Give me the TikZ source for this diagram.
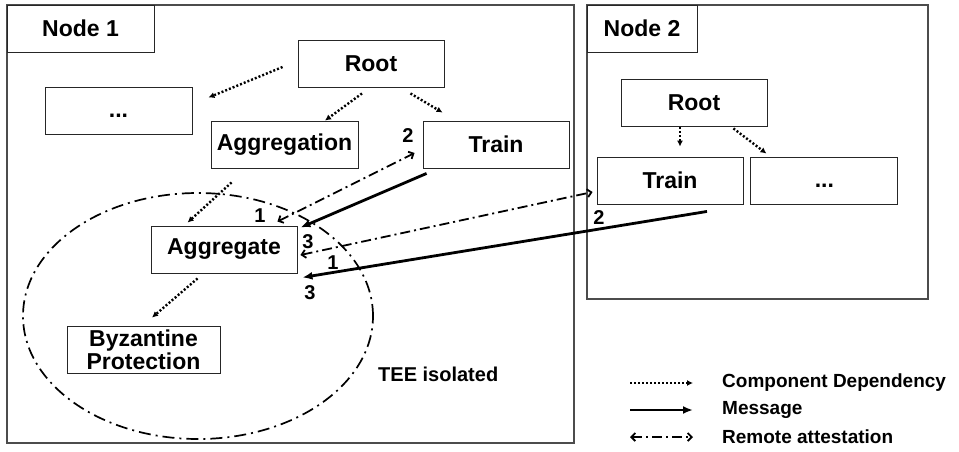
\documentclass[tikz,border=0pt]{standalone}
\usepackage{fontspec}
\setmainfont{Liberation Sans}
\usetikzlibrary{arrows.meta,positioning,calc}

\begin{document}
\begin{tikzpicture}[x=1pt, y=-1pt, font=\bfseries\fontsize{23}{25}\selectfont,
	box/.style={draw=black!85, line width=0.9pt, minimum width=146pt, minimum height=47pt, inner sep=0pt, align=center},
	dotbox/.style={box, minimum width=147pt, text height=17pt, text depth=3pt},
	frame/.style={draw=black!70, line width=1.4pt},
	dep/.style={dash pattern=on 2pt off 2pt, line width=2.4pt, -{Latex[length=6pt,width=6pt]}},
	msg/.style={line width=2.8pt, -{Latex[length=10pt,width=8pt]}},
	att/.style={dash pattern=on 10pt off 4pt on 2pt off 4pt, line width=1.8pt, {Straight Barb[length=4pt,width=8pt]}-{Straight Barb[length=4pt,width=8pt]}},
	tee/.style={dash pattern=on 12pt off 5pt on 2pt off 5pt, line width=1.7pt},
	num/.style={font=\bfseries\fontsize{20}{22}\selectfont, inner sep=0pt},
	legend/.style={font=\bfseries\fontsize{19}{21}\selectfont, anchor=west, inner sep=0pt}]
	\useasboundingbox (0,0) rectangle (959,451);
	
	% Frames {node1, node2}
	\draw [frame] (7,5) rectangle (574,443);
	\draw [frame] (587,5) rectangle (928,299);
	\node [box, minimum width=147pt] 	(n1lbl) at (80.5,28.5)  {Node 1};
	\node [box, minimum width=110pt] 	(n2lbl) at (642,28.5)   {Node 2};
	
	% Nodes of node 1
	\node [box] 						(root1) at (371,63.5)   {Root};
	\node [dotbox] 						(dots1) at (118.5,110.5) {...};
	\node [box, minimum width=147pt] 	(aggn)  at (284.5,144.5) {Aggregation};
	\node [box] 						(train1) at (496,144.5) {Train};
	\node [box] 						(aggt)  at (224,249.5)  {Aggregate};
	\node [box, minimum width=153pt, font=\bfseries\fontsize{23}{23}\selectfont] (byz) at (143.5,349.5) {Byzantine\\Protection};
	
	% Nodes of node 2
	\node [box] 						(root2) at (694,102.5)  {Root};
	\node [box] 						(train2) at (670,180.5) {Train};
	\node [dotbox] 						(dots2) [right=7pt of train2] {...};
	
	% TEE
	\draw [tee] (198,316) ellipse [x radius=175pt, y radius=123pt];
	\node [anchor=west, inner sep=0pt, font=\bfseries\fontsize{20}{22}\selectfont] (teelbl) at (378,374) {TEE isolated};
	
	% Component dependencies
	\draw [dep] ($(root1.west)+(-15,3.5)$) 		-- ($(dots1.north east)+(16,11)$);
	\draw [dep] ($(root1.south)+(-9,6)$) 		-- ($(aggn.north)+(40.5,0)$);
	\draw [dep] ($(root1.south east)+(-34,6)$) 	-- ($(train1.north west)+(20,-8)$);
	\draw [dep] ($(aggn.south west)+(21,14)$) 	-- ($(aggt.north west)+(37,-3)$);
	\draw [dep] ($(aggt.south west)+(47,5)$) 	-- ($(byz.north)+(8.5,-8)$);
	\draw [dep] ($(root2.south)+(-14,1)$) 		-- ($(train2.north)+(10,-10)$);
	\draw [dep] ($(root2.south east)+(-34,2)$) 	-- ($(dots2.north west)+(16,-3)$);
	
	% Messages
	\draw [msg] ($(train1.south west)+(4,5)$) 	-- ($(aggt.north east)+(3,2)$);
	\draw [msg] ($(train2.south)+(37,7)$) 		-- ($(aggt.south east)+(5,4)$);
	
	% Remote attestation
	\draw [att] ($(aggt.north east)+(-20,-4)$) 	-- ($(train1.west)+(-8,8.5)$);
	\draw [att] ($(aggt.east)+(3,5.5)$) 		-- ($(train2.west)+(-4,11.5)$);
	
	% Steps
	\node [num] (s1a) at (260,216) {1};
	\node [num] (s2a) at (408,136) {2};
	\node [num] (s3a) at (308,242) {3};
	\node [num] (s1b) at (333,263) {1};
	\node [num] (s3b) at (310,293) {3};
	\node [num] (s2b) at (599,218) {2};
	
	% Legend
	\coordinate (l1a) at (630,383);  \coordinate (l1b) at (693,383);
	\coordinate (l2a) at (630,410);  \coordinate (l2b) at (693,410);
	\coordinate (l3a) at (630,437);  \coordinate (l3b) at (693,437);
	\draw [dep] (l1a) -- (l1b);
	\draw [msg] (l2a) -- (l2b);
	\draw [att] (l3a) -- (l3b);
	\node [legend] (t1) at (722,383) {Component Dependency};
	\node [legend] (t2) at (722,410) {Message};
	\node [legend] (t3) at (722,437) {Remote attestation};
	
\end{tikzpicture}
\end{document}
